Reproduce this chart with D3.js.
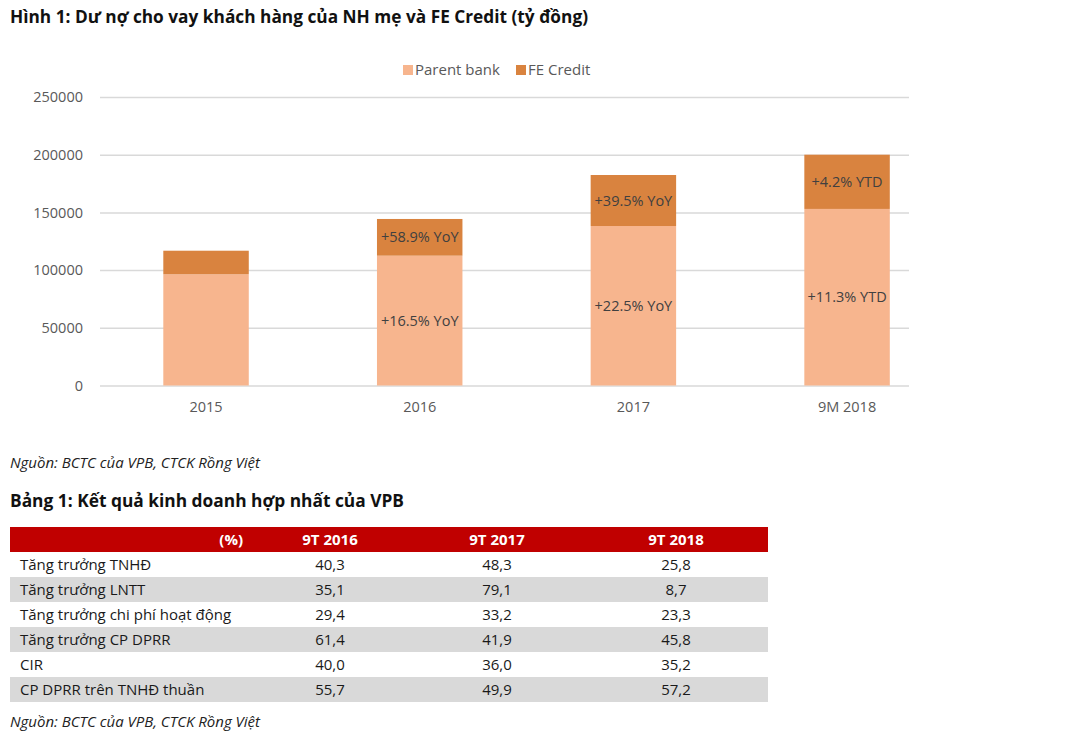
<!DOCTYPE html>
<html>
<head>
<meta charset="utf-8">
<script src="https://cdn.jsdelivr.net/npm/d3@7"></script>
<style>
  html, body { margin: 0; padding: 0; background: #fff; }
  svg { display: block; }
  text { font-family: "Open Sans", "Noto Sans", sans-serif; }
</style>
</head>
<body>
<svg id="chart" width="1068" height="748"></svg>
<script>
// ---------------- DATA ----------------
const categories = ["2015", "2016", "2017", "9M 2018"];
const parentBank = [96400, 112500, 138200, 153000];
const feCredit = [20400, 31800, 44200, 47000];
const parentLabels = ["", "+16.5% YoY", "+22.5% YoY", "+11.3% YTD"];
const feLabels = ["", "+58.9% YoY", "+39.5% YoY", "+4.2% YTD"];
const yTicks = [0, 50000, 100000, 150000, 200000, 250000];
const seriesNames = ["Parent bank", "FE Credit"];

const titleText = "Hình 1: Dư nợ cho vay khách hàng của NH mẹ và FE Credit (tỷ đồng)";
const sourceText = "Nguồn: BCTC của VPB, CTCK Rồng Việt";
const tableTitle = "Bảng 1: Kết quả kinh doanh hợp nhất của VPB";

const tableHeader = ["(%)", "9T 2016", "9T 2017", "9T 2018"];
const rowLabels = ["Tăng trưởng TNHĐ", "Tăng trưởng LNTT", "Tăng trưởng chi phí hoạt động",
                   "Tăng trưởng CP DPRR", "CIR", "CP DPRR trên TNHĐ thuần"];
const col2016 = ["40,3", "35,1", "29,4", "61,4", "40,0", "55,7"];
const col2017 = ["48,3", "79,1", "33,2", "41,9", "36,0", "49,9"];
const col2018 = ["25,8", "8,7", "23,3", "45,8", "35,2", "57,2"];

// ---------------- STYLE ----------------
const colors = ["#F7B58E", "#D9833F"];
const svg = d3.select("#chart");
svg.append("rect").attr("width", 1068).attr("height", 748).attr("fill", "#fff");

function fit(sel, w) {
  const n = sel.node();
  const len = n.getComputedTextLength();
  if (Math.abs(len - w) > 2) sel.attr("textLength", w).attr("lengthAdjust", "spacingAndGlyphs");
  return sel;
}

// Title
fit(svg.append("text").attr("x", 10).attr("y", 23)
  .attr("font-size", 17).attr("font-weight", "bold").attr("fill", "#111")
  .text(titleText), 578);

// ---------------- CHART ----------------
const y = d3.scaleLinear().domain([0, 250000]).range([385.5, 97]);
const x = d3.scaleBand().domain(categories).range([99.2, 953.9]).paddingInner(0.6).paddingOuter(0.3);
const gridX0 = 100, gridX1 = 909;

// gridlines + y axis
const yAxis = d3.axisLeft(y).tickValues(yTicks).tickFormat(d3.format("d"))
  .tickSize(-(gridX1 - gridX0)).tickPadding(17);
const gy = svg.append("g").attr("transform", `translate(${gridX0},0)`).call(yAxis);
gy.select(".domain").remove();
gy.selectAll(".tick line").attr("stroke", "#d9d9d9").attr("stroke-width", 1.5);
gy.selectAll(".tick text").attr("fill", "#595959").attr("font-size", 14.5)
  .attr("font-family", "'Open Sans', sans-serif");

// stacked data
const stackData = categories.map((c, i) => ({ cat: c, parent: parentBank[i], fe: feCredit[i] }));
const stack = d3.stack().keys(["parent", "fe"])(stackData);

svg.append("g").selectAll("g").data(stack).join("g")
  .attr("fill", (d, i) => colors[i])
  .selectAll("rect").data(d => d).join("rect")
  .attr("x", d => x(d.data.cat))
  .attr("width", x.bandwidth())
  .attr("y", d => y(d[1]))
  .attr("height", d => y(d[0]) - y(d[1]));

// segment labels
const labelSets = [parentLabels, feLabels];
stack.forEach((layer, li) => {
  svg.append("g").selectAll("text").data(layer).join("text")
    .attr("x", d => x(d.data.cat) + x.bandwidth() / 2)
    .attr("y", d => (y(d[0]) + y(d[1])) / 2)
    .attr("dy", "0.35em")
    .attr("text-anchor", "middle")
    .attr("font-size", 14.5)
    .attr("fill", "#404040")
    .text((d, i) => labelSets[li][i]);
});

// x axis labels
const xAxis = d3.axisBottom(x).tickSize(0).tickPadding(16);
const gx = svg.append("g").attr("transform", `translate(0,${y(0)})`).call(xAxis);
gx.select(".domain").remove();
gx.selectAll(".tick text").attr("fill", "#595959").attr("font-size", 14.5)
  .attr("font-family", "'Open Sans', sans-serif");

// legend
const legendX = [403, 516];
const lg = svg.append("g").selectAll("g").data(seriesNames).join("g")
  .attr("transform", (d, i) => `translate(${legendX[i]},64)`);
lg.append("rect").attr("width", 10).attr("height", 10).attr("y", 1).attr("fill", (d, i) => colors[i]);
lg.append("text").attr("x", 12).attr("y", 11).attr("font-size", 15).attr("fill", "#595959")
  .text(d => d);

// source 1
fit(svg.append("text").attr("x", 10).attr("y", 468).attr("font-size", 14)
  .attr("font-style", "italic").attr("fill", "#222").text(sourceText), 250);

// table title
fit(svg.append("text").attr("x", 10).attr("y", 507).attr("font-size", 17)
  .attr("font-weight", "bold").attr("fill", "#111").text(tableTitle), 394);

// ---------------- TABLE ----------------
const rowsY = d3.scaleBand().domain(d3.range(rowLabels.length + 1)).range([527, 702]);
const tableX0 = 10, tableX1 = 768;
const colCenters = [null, 330, 497, 676];
const cols = [col2016, col2017, col2018];

// header
svg.append("rect").attr("x", tableX0).attr("y", rowsY(0)).attr("width", tableX1 - tableX0)
  .attr("height", rowsY.bandwidth()).attr("fill", "#C00000");
const headerY = rowsY(0) + rowsY.bandwidth() / 2;
svg.append("g").selectAll("text").data(tableHeader).join("text")
  .attr("x", (d, i) => i === 0 ? 243 : colCenters[i])
  .attr("y", headerY).attr("dy", "0.35em")
  .attr("text-anchor", (d, i) => i === 0 ? "end" : "middle")
  .attr("font-size", 15).attr("font-weight", "bold").attr("fill", "#fff")
  .text(d => d);

// body rows
const body = svg.append("g").selectAll("g").data(rowLabels).join("g")
  .attr("transform", (d, i) => `translate(0,${rowsY(i + 1)})`);
body.append("rect").attr("x", tableX0).attr("width", tableX1 - tableX0)
  .attr("height", rowsY.bandwidth())
  .attr("fill", (d, i) => i % 2 === 1 ? "#D9D9D9" : "#fff");
body.append("text").attr("x", 20).attr("y", rowsY.bandwidth() / 2).attr("dy", "0.35em")
  .attr("font-size", 15).attr("fill", "#1a1a1a").text(d => d);
cols.forEach((col, ci) => {
  body.append("text").attr("x", colCenters[ci + 1]).attr("y", rowsY.bandwidth() / 2)
    .attr("dy", "0.35em").attr("text-anchor", "middle")
    .attr("font-size", 15).attr("fill", "#1a1a1a")
    .text((d, i) => col[i]);
});

// source 2
fit(svg.append("text").attr("x", 10).attr("y", 727).attr("font-size", 14)
  .attr("font-style", "italic").attr("fill", "#222").text(sourceText), 250);
</script>
</body>
</html>
